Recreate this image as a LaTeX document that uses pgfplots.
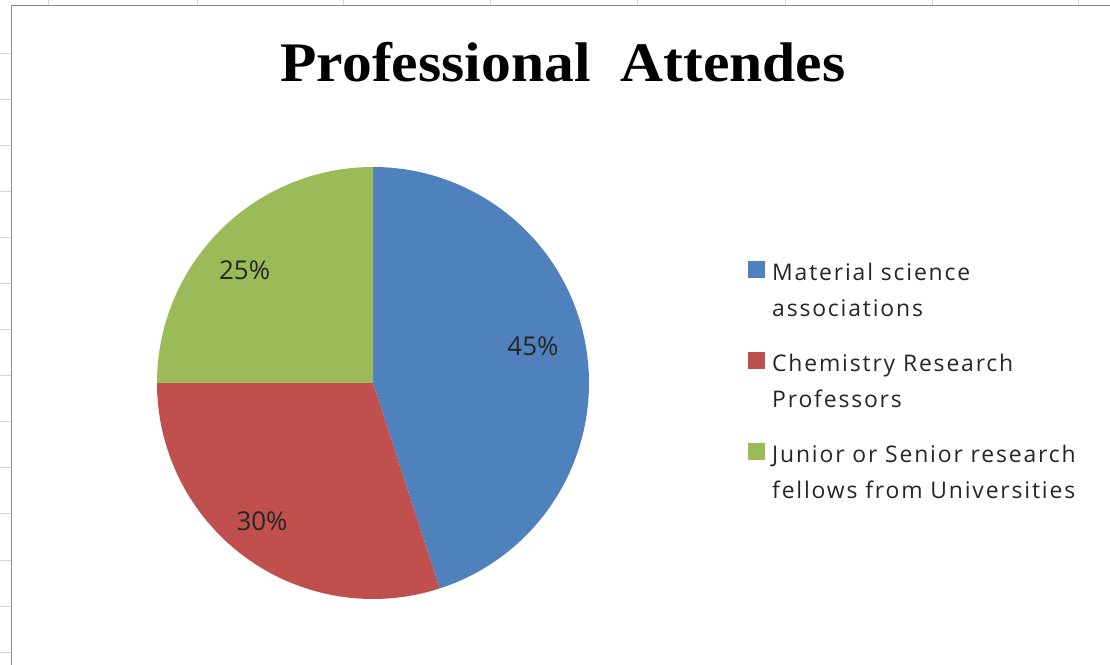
\documentclass[border=0pt]{standalone}
\usepackage{fontspec}
\setmainfont{Open Sans}
\newfontfamily\legfont{Open Sans}[LetterSpace=8]
\newfontfamily\titlefont{Liberation Serif}
\usepackage{pgfplots}
\pgfplotsset{compat=1.18}
\usepgfplotslibrary{polar}
\definecolor{blueC}{HTML}{4F81BD}
\definecolor{redC}{HTML}{C0504D}
\definecolor{greenC}{HTML}{9BBB59}
\definecolor{frameC}{HTML}{8C8C8C}
\definecolor{gridC}{HTML}{D4D4D4}
% shares in percent
\def\vA{45}\def\vB{30}\def\vC{25}
\begin{document}
\begin{tikzpicture}[x=1bp,y=1bp]
\fill[white] (0,0) rectangle (1110,665);
% spreadsheet grid outside the chart frame
\foreach \gx in {48,197,343,490,637,785,932,1078} \draw[gridC, line width=0.8bp] (\gx,665) -- (\gx,659.5);
\foreach \gy in {53,99,145,191,237,283,329,375,421,467,513,560,606,652} \draw[gridC, line width=0.8bp] (0,665-\gy) -- (11,665-\gy);
\draw[frameC, line width=1.6bp] (11.5,0) -- (11.5,659.5) -- (1110,659.5);
% angles
\pgfmathsetmacro\aZ{90}
\pgfmathsetmacro\aA{90-3.6*\vA}
\pgfmathsetmacro\aB{\aA-3.6*\vB}
\pgfmathsetmacro\aC{\aB-3.6*\vC}
\begin{polaraxis}[
  at={(373bp,282bp)}, anchor=center,
  scale only axis, width=432bp, height=432bp,
  ymin=0, ymax=1, hide axis, clip=false,
]
\addplot[fill=blueC, draw=none, domain=\aA:\aZ, samples=150] {1} -- (axis cs:0,0) -- cycle;
\addplot[fill=redC, draw=none, domain=\aB:\aA, samples=120] {1} -- (axis cs:0,0) -- cycle;
\addplot[fill=greenC, draw=none, domain=\aC:\aB, samples=100] {1} -- (axis cs:0,0) -- cycle;
\node[font=\fontsize{26}{30}\selectfont, text=black!85] at (axis cs:13,0.76) {45\%};
\node[font=\fontsize{26}{30}\selectfont, text=black!85] at (axis cs:231.2,0.82) {30\%};
\node[font=\fontsize{26}{30}\selectfont, text=black!85] at (axis cs:138.8,0.79) {25\%};
\end{polaraxis}
% legend
\begin{axis}[
  at={(0bp,0bp)}, anchor=south west,
  scale only axis, width=1110bp, height=665bp,
  xmin=0, xmax=1110, ymin=0, ymax=665, hide axis,
  legend image code/.code={\fill[#1, draw=none] (0bp,12.5bp) rectangle (17bp,29.5bp);},
  legend style={draw=none, fill=none, at={(axis cs:745,406)}, anchor=north west,
    font=\legfont\fontsize{23}{36}\selectfont, text=black!85,
    nodes={align=left, inner sep=1bp}, row sep=33bp, column sep=6bp},
  legend cell align=left,
]
\addlegendimage{fill=blueC, draw=none}
\addlegendentry{Material science\\associations}
\addlegendimage{fill=redC, draw=none}
\addlegendentry{Chemistry Research\\Professors}
\addlegendimage{fill=greenC, draw=none}
\addlegendentry{Junior or Senior research\\fellows from Universities}
\end{axis}
\node[anchor=base, font=\titlefont\bfseries\fontsize{56}{60}\selectfont] at (563,583) {\scalebox{1.068}[1]{Professional\ \ Attendes}};
\pgfresetboundingbox
\useasboundingbox (0,0) rectangle (1110,665);
\end{tikzpicture}
\end{document}
